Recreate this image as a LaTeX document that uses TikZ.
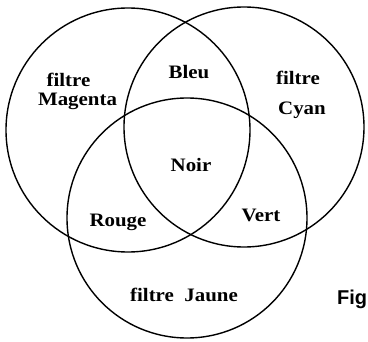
\documentclass[tikz,border=0pt]{standalone}
\usepackage{fontspec}
\setmainfont{Liberation Serif}[FakeStretch=1.1]
\newfontfamily\figfont{Liberation Sans}
\begin{document}
\begin{tikzpicture}[
  x=1pt, y=-1pt,
  filtre/.style = {circle, draw, line width=1.4pt,
                   minimum size=#1, inner sep=0pt},
  lbl/.style    = {anchor=base, inner sep=0pt,
                   font=\fontsize{19}{21}\selectfont\bfseries}
]
\useasboundingbox (0,0) rectangle (368,342);
% les trois filtres
\node[filtre=244pt] (M) at (128,130) {};
\node[filtre=240pt] (C) at (244,127) {};
\node[filtre=240pt] (J) at (187,218) {};
% textes
\node[lbl] (fM)   at (68.5,87)  {filtre};
\node[lbl] (tM)   at (77.5,106) {Magenta};
\node[lbl] (bleu) at (189,79)   {Bleu};
\node[lbl] (fC)   at (298,85)   {filtre};
\node[lbl] (tC)   at (302,115)  {Cyan};
\node[lbl] (noir) at (191,172)  {Noir};
\node[lbl] (rouge) at (118,227) {Rouge};
\node[lbl] (vert) at (261,222)  {Vert};
\node[lbl] (fJ)   at (184,302)  {filtre~~Jaune};
\node[anchor=base west, inner sep=0pt,
      font=\figfont\fontsize{20}{22}\selectfont\bfseries] (fig) at (337,305) {Fig};
\end{tikzpicture}
\end{document}
